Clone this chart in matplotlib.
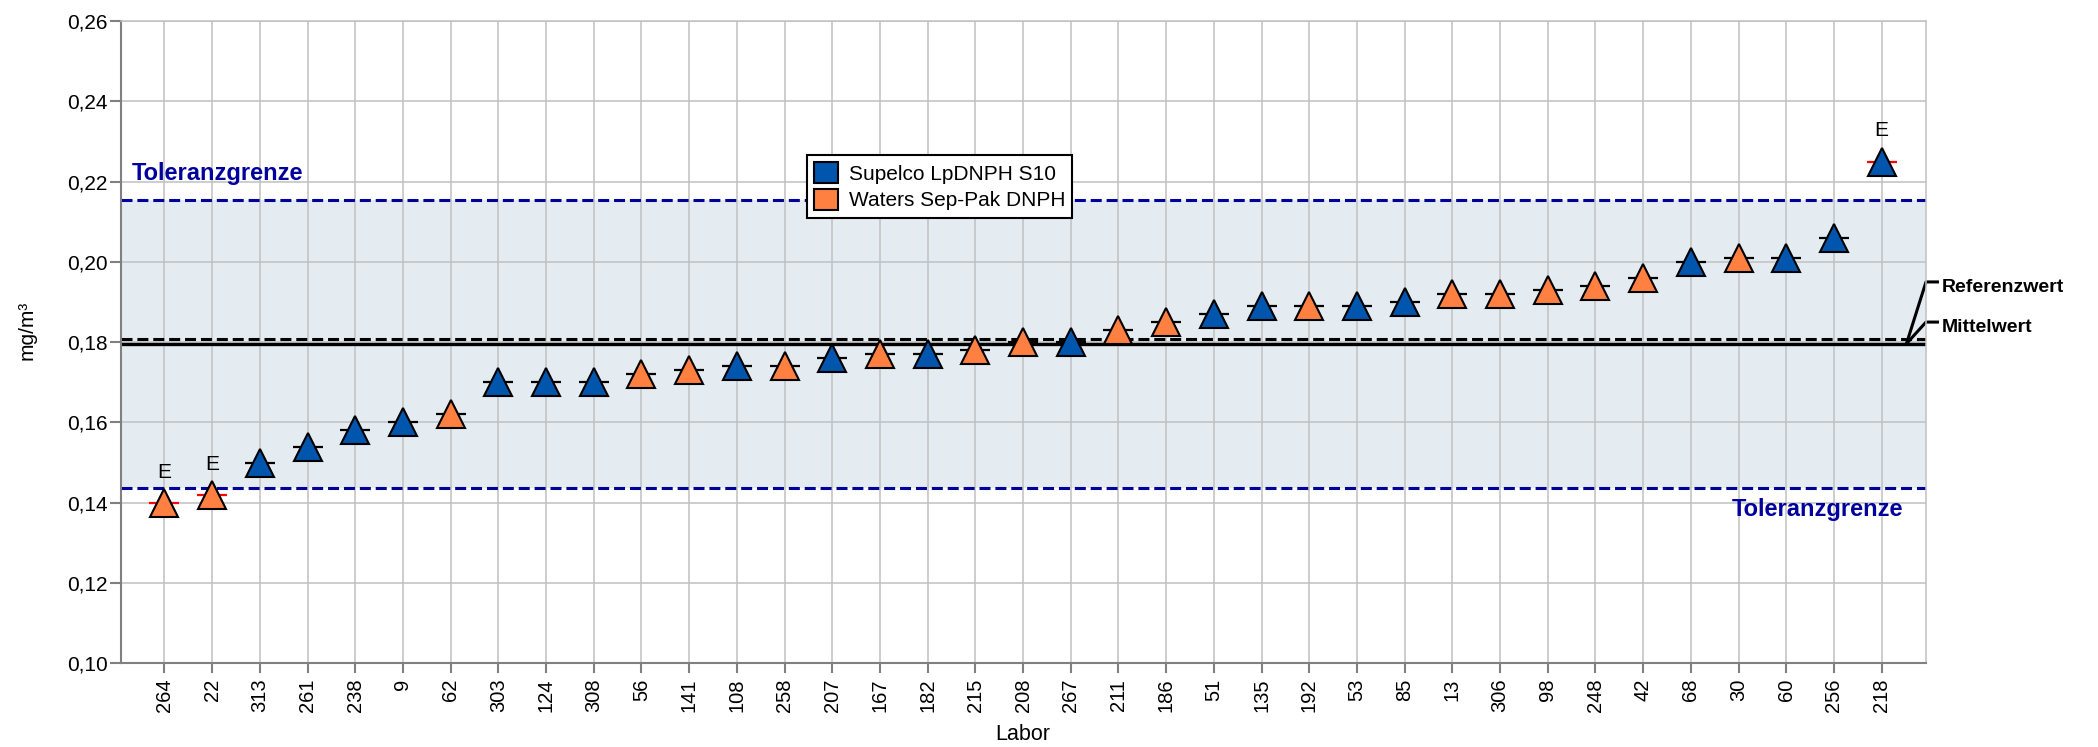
import matplotlib.pyplot as plt
from matplotlib.patches import Patch
import numpy as np

plt.rcParams['font.family'] = ['Liberation Sans', 'DejaVu Sans']

# Ringversuch: Labore sortiert nach Messwert
labor = ["264", "22", "313", "261", "238", "9", "62", "303", "124", "308",
         "56", "141", "108", "258", "207", "167", "182", "215", "208", "267",
         "211", "186", "51", "135", "192", "53", "85", "13", "306", "98",
         "248", "42", "68", "30", "60", "256", "218"]
werte = [0.140, 0.142, 0.150, 0.154, 0.158, 0.160, 0.162, 0.170, 0.170, 0.170,
         0.172, 0.173, 0.174, 0.174, 0.176, 0.177, 0.177, 0.178, 0.180, 0.180,
         0.183, 0.185, 0.187, 0.189, 0.189, 0.189, 0.190, 0.192, 0.192, 0.193,
         0.194, 0.196, 0.200, 0.201, 0.201, 0.206, 0.225]
# S = Supelco LpDNPH S10, W = Waters Sep-Pak DNPH
kartusche = ["W", "W", "S", "S", "S", "S", "W", "S", "S", "S",
             "W", "W", "S", "W", "S", "W", "S", "W", "W", "S",
             "W", "W", "S", "S", "W", "S", "S", "W", "W", "W",
             "W", "W", "S", "W", "S", "S", "S"]
ausreisser = ["264", "22", "218"]

mittelwert = 0.1796
referenzwert = 0.1809
tol_oben = 0.2155
tol_unten = 0.1437

farben = {"S": "#0055AD", "W": "#FF8040"}
namen = {"S": "Supelco LpDNPH S10", "W": "Waters Sep-Pak DNPH"}
blau = "#00009C"

W, H = 2098, 747
fig = plt.figure(figsize=(W / 100, H / 100), dpi=100)
ax = fig.add_axes([121 / W, 1 - 663.3 / H, (1926 - 121) / W, (663.3 - 21) / H])

x = np.arange(len(labor))
v = np.array(werte)
ax.set_xlim(-0.91, len(labor) - 1 + 0.93)
ax.set_ylim(0.10, 0.26)

# Toleranzbereich und Grid
ax.axhspan(tol_unten, tol_oben, color="#E4EBF1", zorder=0, lw=0)
ax.grid(True, color="#C0C0C0", lw=1.1)
ax.set_axisbelow(True)

ax.axhline(tol_oben, color=blau, lw=2.2, dashes=(3.6, 1.6), zorder=2)
ax.axhline(tol_unten, color=blau, lw=2.2, dashes=(3.6, 1.6), zorder=2)
ax.axhline(referenzwert, color="black", lw=2.2, dashes=(3.6, 1.6), zorder=2)
ax.axhline(mittelwert, color="black", lw=2.4, zorder=2)

# Messwert-Striche, Ausreisser rot
ist_e = np.array([l in ausreisser for l in labor])
ax.plot(x[~ist_e], v[~ist_e], ls="none", marker="_", ms=22, mew=1.6,
        color="black", zorder=3)
ax.plot(x[ist_e], v[ist_e], ls="none", marker="_", ms=22, mew=1.6,
        color="red", zorder=3)

for k in ["S", "W"]:
    m = np.array([c == k for c in kartusche])
    ax.plot(x[m], v[m], ls="none", marker="^", ms=20.5, mfc=farben[k],
            mec="black", mew=1.5, zorder=4)

for xi, vi, l in zip(x, v, labor):
    if l in ausreisser:
        ax.annotate("E", (xi, vi), xytext=(0, 22), textcoords="offset points",
                    ha="center", va="center", fontsize=15)

ax.text(-0.68, 0.2221, "Toleranzgrenze", color=blau, fontsize=17,
        fontweight="bold", ha="left", va="center")
ax.text(36.45, 0.1382, "Toleranzgrenze", color=blau, fontsize=17,
        fontweight="bold", ha="right", va="center")

# Beschriftung Referenzwert / Mittelwert rechts neben dem Diagramm
ax.plot([36.52, 36.93, 37.17], [mittelwert, 0.1950, 0.1950], color="black",
        lw=2.2, clip_on=False)
ax.plot([36.52, 36.93, 37.17], [mittelwert, 0.1850, 0.1850], color="black",
        lw=2.2, clip_on=False)
ax.text(37.27, 0.1936, "Referenzwert", fontsize=14, fontweight="bold",
        ha="left", va="center")
ax.text(37.27, 0.1836, "Mittelwert", fontsize=14, fontweight="bold",
        ha="left", va="center")

# Achsen
yt = np.arange(0.10, 0.2601, 0.02)
ax.set_yticks(yt, [f"{t:.2f}".replace(".", ",") for t in yt])
ax.set_xticks(x, labor, rotation=90)
ax.tick_params(axis="y", length=7.7, width=1.5, color="#808080", pad=2,
               labelsize=15)
ax.tick_params(axis="x", length=7.2, width=1.5, color="#808080", pad=4,
               labelsize=14.5)
for s in ["left", "bottom"]:
    ax.spines[s].set_color("#808080")
    ax.spines[s].set_linewidth(1.5)
for s in ["top", "right"]:
    ax.spines[s].set_color("#C0C0C0")
    ax.spines[s].set_linewidth(1.1)

fig.text(27 / W, 1 - 330 / H, "mg/m³", rotation=90, ha="center",
         va="center", fontsize=15)
fig.text(1023 / W, 1 - 735 / H, "Labor", ha="center", va="center",
         fontsize=15.5)

handles = [Patch(facecolor=farben[k], edgecolor="black", lw=1.5,
                 label=namen[k]) for k in ["S", "W"]]
leg = ax.legend(handles=handles, loc="upper left",
                bbox_to_anchor=(807 / W, 1 - 155 / H),
                bbox_transform=fig.transFigure, fontsize=15, frameon=True,
                fancybox=False, framealpha=1, edgecolor="black",
                handlelength=1.15, handleheight=1.15, handletextpad=0.5,
                labelspacing=0.25, borderpad=0.35, borderaxespad=0)
leg.get_frame().set_linewidth(1.5)
leg.set_zorder(10)

fig.savefig("out.png", dpi=100)
